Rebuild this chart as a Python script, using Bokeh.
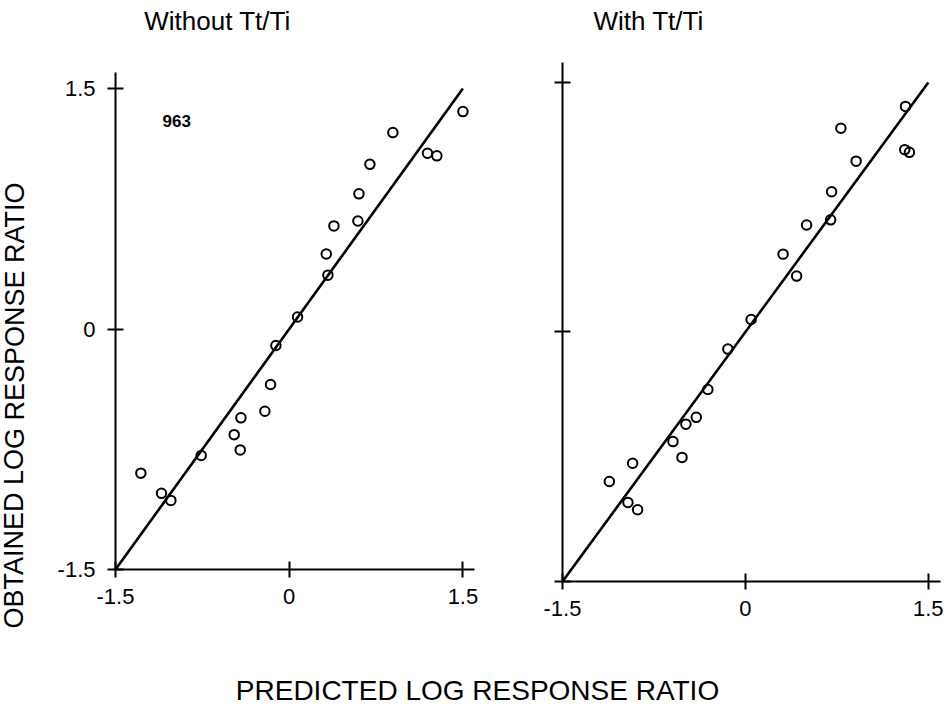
from bokeh.plotting import figure
from bokeh.models import Range1d, FixedTicker, Label
from bokeh.layouts import row, column
from bokeh.embed import file_html
from bokeh.resources import INLINE

# ---------------- data ----------------
obtained = [1.356, 1.225, 1.096, 1.080, 1.027, 0.843, 0.674, 0.643, 0.468, 0.336, 0.075,
            -0.103, -0.346, -0.513, -0.554, -0.659, -0.754, -0.789, -0.899, -1.025, -1.069]
predicted_without = [1.50, 0.895, 1.194, 1.275, 0.697, 0.602, 0.593, 0.386, 0.320, 0.334, 0.072,
                     -0.115, -0.161, -0.21, -0.417, -0.475, -0.423, -0.76, -1.281, -1.103, -1.022]
predicted_with = [1.313, 0.783, 1.307, 1.345, 0.908, 0.707, 0.699, 0.502, 0.309, 0.42, 0.047,
                  -0.144, -0.308, -0.403, -0.488, -0.594, -0.52, -0.925, -1.116, -0.963, -0.884]
identity_line = [-1.5, 1.5]
tick_values = [-1.5, 0.0, 1.5]
tick_labels = ["-1.5", "0", "1.5"]
titles = ["Without Tt/Ti", "With Tt/Ti"]
panel_note = "963"
x_title = "PREDICTED LOG RESPONSE RATIO"
y_title = "OBTAINED LOG RESPONSE RATIO"

FONT = "Liberation Sans"


def strip(width, height):
    s = figure(width=width, height=height, output_backend="svg", toolbar_location=None,
               x_range=Range1d(0, 1), y_range=Range1d(0, 1), min_border=0)
    s.axis.visible = False
    s.grid.visible = False
    s.outline_line_color = None
    s.background_fill_color = "white"
    s.border_fill_color = "white"
    return s


def text_label(x, y, text, size, angle=0.0, align="center", style="normal"):
    return Label(x=x, y=y, x_units="screen", y_units="screen", text=text, angle=angle,
                 text_font=FONT, text_font_size=size, text_font_style=style,
                 text_align=align, text_baseline="middle", text_color="black")


def style_axes(p, show_y_labels=True):
    for ax in (p.xaxis[0], p.yaxis[0]):
        ax.ticker = FixedTicker(ticks=tick_values)
        ax.axis_line_width = 2
        ax.axis_line_color = "black"
        ax.major_tick_in = 8
        ax.major_tick_out = 8
        ax.major_tick_line_width = 2
        ax.major_tick_line_color = "black"
        ax.minor_tick_line_color = None
        ax.major_label_text_font = FONT
        ax.major_label_text_font_size = "22px"
        ax.major_label_text_color = "black"
        ax.major_label_overrides = dict(zip(tick_values, tick_labels))
    p.xaxis[0].major_label_standoff = 11
    p.yaxis[0].major_label_standoff = 12
    if not show_y_labels:
        p.yaxis[0].major_label_overrides = dict(zip(tick_values, ["", "", ""]))
        p.yaxis[0].major_label_standoff = 0
    p.grid.visible = False
    p.outline_line_color = None
    p.background_fill_color = "white"
    p.border_fill_color = "white"


def add_points(p, xs, ys):
    p.line(identity_line, identity_line, line_color="black", line_width=2.6)
    p.scatter(xs, ys, marker="circle", size=9.5, fill_color="white", fill_alpha=0,
              line_color="black", line_width=2)


# ---------- y title strip (full height) ----------
pY = strip(40, 707)
pY.add_layout(text_label(14, 302, y_title, "27px", angle=1.5707963))

# ---------- top strip with panel titles ----------
pTop = strip(912, 44)
pTop.add_layout(text_label(177, 24, titles[0], "26px"))
pTop.add_layout(text_label(608, 24, titles[1], "26px"))

# ---------- left panel ----------
pL = figure(width=490, height=616, output_backend="svg", toolbar_location=None,
            x_range=Range1d(-1.5, 1.6), y_range=Range1d(-1.5, 1.6),
            min_border_left=75, min_border_right=56, min_border_top=28, min_border_bottom=91)
style_axes(pL, True)
add_points(pL, predicted_without, obtained)
pL.add_layout(text_label(47, 449, panel_note, "17px", align="left", style="bold"))

# ---------- right panel ----------
pR = figure(width=422, height=616, output_backend="svg", toolbar_location=None,
            x_range=Range1d(-1.5, 1.6), y_range=Range1d(-1.5, 1.62),
            min_border_left=32, min_border_right=12, min_border_top=18, min_border_bottom=79)
style_axes(pR, False)
add_points(pR, predicted_with, obtained)

# ---------- bottom strip for the shared x title ----------
pB = strip(912, 47)
pB.add_layout(text_label(437, 17, x_title, "28px"))

layout = row(pY, column(pTop, row(column(pL), column(pR)), pB))

open("out.html", "w").write(file_html(layout, INLINE))
